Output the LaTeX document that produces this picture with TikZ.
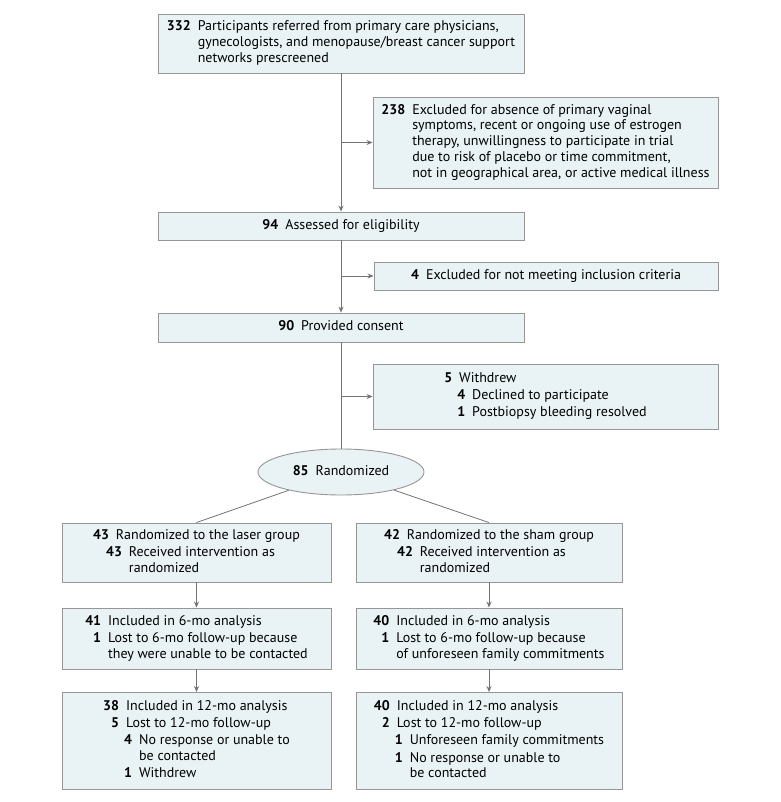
\documentclass[tikz,border=0pt]{standalone}
\usepackage{fontspec}
\setmainfont{PT Sans}
\usetikzlibrary{arrows.meta,shapes.geometric}
\definecolor{boxfill}{RGB}{233,242,245}
\definecolor{boxdraw}{RGB}{150,150,150}
\definecolor{linec}{RGB}{115,115,115}
\newcommand\lvB[2]{\hspace{6pt}\llap{\textbf{#1}}\hspace{7pt}#2}
\newcommand\lvBc[1]{\hspace{13pt}#1}
\newcommand\nx{\\[1.4pt]}
\newcommand\blk[1]{\begin{tabular}{@{}r@{\hspace{7pt}}l@{}}#1\end{tabular}}
\tikzset{
  flowbox/.style={draw=boxdraw, fill=boxfill, line width=0.9pt, inner sep=0pt, align=center, font=\fontsize{14}{15.8}\selectfont},
  conn/.style={draw=linec, line width=0.8pt},
  arr/.style={conn, -{Stealth[length=6pt,width=5pt]}}
}
\begin{document}
\begin{tikzpicture}[x=1pt,y=-1pt]
\useasboundingbox (0,0) rectangle (780,802);
\node[flowbox, minimum width=366pt, minimum height=59pt] (top) at (341,43.5)
  {\blk{\textbf{332} & Participants referred from primary care physicians,\\ & gynecologists, and menopause/breast cancer support\\ & networks prescreened}};
\node[flowbox, minimum width=345pt, minimum height=91pt] (exA) at (545.5,142.5)
  {\blk{\textbf{238} & Excluded for absence of primary vaginal\\ & symptoms, recent or ongoing use of estrogen\\ & therapy, unwillingness to participate in trial\\ & due to risk of placebo or time commitment,\\ & not in geographical area, or active medical illness}};
\node[flowbox, minimum width=366pt, minimum height=28pt] (elig) at (341,226)
  {\blk{\textbf{94} & Assessed for eligibility}};
\node[flowbox, minimum width=344pt, minimum height=28pt] (exB) at (546,276)
  {\blk{\textbf{4} & Excluded for not meeting inclusion criteria}};
\node[flowbox, minimum width=366pt, minimum height=29pt] (cons) at (341,327.5)
  {\blk{\textbf{90} & Provided consent}};
\node[flowbox, minimum width=345pt, minimum height=65pt] (wd) at (545.5,396.5)
  {\blk{\textbf{5} & Withdrew\nx & \lvB{4}{Declined to participate}\nx & \lvB{1}{Postbiopsy bleeding resolved}}};
\node[flowbox, ellipse, minimum width=166pt, minimum height=46pt] (rand) at (341,472)
  {\blk{\textbf{85} & Randomized}};
\node[flowbox, minimum width=269pt, minimum height=59pt] (las) at (196.5,552.5)
  {\blk{\textbf{43} & Randomized to the laser group\nx & \lvB{43}{Received intervention as}\\ & \lvBc{randomized}}};
\node[flowbox, minimum width=266pt, minimum height=59pt] (sham) at (489,552.5)
  {\blk{\textbf{42} & Randomized to the sham group\nx & \lvB{42}{Received intervention as}\\ & \lvBc{randomized}}};
\node[flowbox, minimum width=269pt, minimum height=61pt] (lsix) at (196.5,638.5)
  {\blk{\textbf{41} & Included in 6-mo analysis\nx \textbf{1} & Lost to 6-mo follow-up because\\ & they were unable to be contacted}};
\node[flowbox, minimum width=266pt, minimum height=61pt] (ssix) at (489,638.5)
  {\blk{\textbf{40} & Included in 6-mo analysis\nx \textbf{1} & Lost to 6-mo follow-up because\\ & of unforeseen family commitments}};
\node[flowbox, minimum width=269pt, minimum height=97pt] (ltw) at (196.5,741)
  {\blk{\textbf{38} & Included in 12-mo analysis\nx \textbf{5} & Lost to 12-mo follow-up\nx & \lvB{4}{No response or unable to}\\ & \lvBc{be contacted}\nx & \lvB{1}{Withdrew}}};
\node[flowbox, minimum width=266pt, minimum height=97pt] (stw) at (489,741)
  {\blk{\textbf{40} & Included in 12-mo analysis\nx \textbf{2} & Lost to 12-mo follow-up\nx & \lvB{1}{Unforeseen family commitments}\nx & \lvB{1}{No response or unable to}\\ & \lvBc{be contacted}}};
% connectors
\draw[arr] (top.south) -- (elig.north);
\draw[arr] (top.south |- exA.west) -- (exA.west);
\draw[arr] (elig.south) -- (cons.north);
\draw[arr] (elig.south |- exB.west) -- (exB.west);
\draw[conn] (cons.south) -- (rand.north);
\draw[arr] (cons.south |- wd.west) -- (wd.west);
\draw[conn] (rand) -- (las.north);
\draw[conn] (rand) -- (sham.north);
\draw[arr] (las.south) -- (lsix.north);
\draw[arr] (sham.south) -- (ssix.north);
\draw[arr] (lsix.south) -- (ltw.north);
\draw[arr] (ssix.south) -- (stw.north);
\end{tikzpicture}
\end{document}
